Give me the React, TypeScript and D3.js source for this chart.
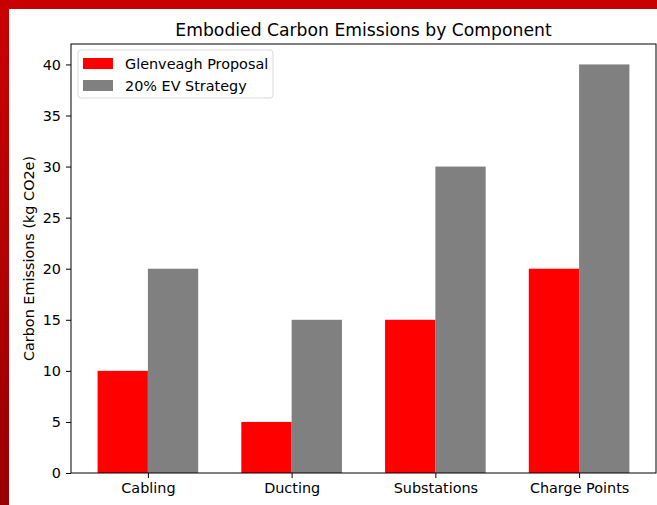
import React, { useEffect, useRef } from 'react';
import * as d3 from 'd3';

const categories = ['Cabling', 'Ducting', 'Substations', 'Charge Points'];
const glenveagh = [10, 5, 15, 20];
const evStrategy = [20, 15, 30, 40];
const seriesNames = ['Glenveagh Proposal', '20% EV Strategy'];
const yTicks = [0, 5, 10, 15, 20, 25, 30, 35, 40];

const App: React.FC = () => {
  const ref = useRef<SVGSVGElement>(null);

  useEffect(() => {
    if (!ref.current) return;
    const svg = d3.select(ref.current);
    svg.selectAll('*').remove();

    const W = 657;
    const H = 505;
    const font = 'DejaVu Sans, sans-serif';
    const fs = '14.4px';
    const margin = { top: 44, right: 1, bottom: 32, left: 71 };
    const width = W - margin.left - margin.right;
    const height = H - margin.top - margin.bottom;
    const barW = 0.35;

    // red frame (top + left edges)
    const defs = svg.append('defs');
    const grad = defs
      .append('linearGradient')
      .attr('id', 'frameGrad')
      .attr('x1', 0)
      .attr('y1', 0)
      .attr('x2', 0)
      .attr('y2', 1);
    grad.append('stop').attr('offset', '0%').attr('stop-color', '#cc0000');
    grad.append('stop').attr('offset', '100%').attr('stop-color', '#990000');

    svg.append('rect').attr('width', W).attr('height', H).attr('fill', '#ffffff');
    svg.append('rect').attr('x', 0).attr('y', 0).attr('width', 9).attr('height', H).attr('fill', 'url(#frameGrad)');
    svg.append('rect').attr('x', 0).attr('y', 0).attr('width', W).attr('height', 9).attr('fill', '#c80000');

    const g = svg.append('g').attr('transform', `translate(${margin.left},${margin.top})`);

    // matplotlib-like data limits with 5% margins
    const lo = -barW;
    const hi = categories.length - 1 + barW;
    const pad = (hi - lo) * 0.05;
    const x = d3.scaleLinear().domain([lo - pad, hi + pad]).range([0, width]);
    const yMax = d3.max(evStrategy) as number;
    const y = d3.scaleLinear().domain([0, yMax * 1.05]).range([height, 0]);

    // bars
    g.selectAll('rect.g1')
      .data(glenveagh)
      .enter()
      .append('rect')
      .attr('class', 'g1')
      .attr('x', (_, i) => x(i - barW))
      .attr('y', (d) => y(d))
      .attr('width', x(barW) - x(0))
      .attr('height', (d) => y(0) - y(d))
      .attr('fill', '#ff0000');

    g.selectAll('rect.g2')
      .data(evStrategy)
      .enter()
      .append('rect')
      .attr('class', 'g2')
      .attr('x', (_, i) => x(i))
      .attr('y', (d) => y(d))
      .attr('width', x(barW) - x(0))
      .attr('height', (d) => y(0) - y(d))
      .attr('fill', '#808080');

    // axes
    const xAxis = d3
      .axisBottom(x)
      .tickValues(categories.map((_, i) => i))
      .tickFormat((d) => categories[d as number])
      .tickSize(5)
      .tickPadding(5);
    const gx = g.append('g').attr('transform', `translate(0,${height})`).call(xAxis);
    gx.select('.domain').remove();
    gx.selectAll('text').style('font-family', font).style('font-size', fs).attr('fill', '#000');
    gx.selectAll('line').attr('stroke', '#000');

    const yAxis = d3.axisLeft(y).tickValues(yTicks).tickSize(5).tickPadding(5);
    const gy = g.append('g').call(yAxis);
    gy.select('.domain').remove();
    gy.selectAll('text').style('font-family', font).style('font-size', fs).attr('fill', '#000');
    gy.selectAll('line').attr('stroke', '#000');

    // frame
    g.append('rect')
      .attr('width', width)
      .attr('height', height)
      .attr('fill', 'none')
      .attr('stroke', '#000')
      .attr('stroke-width', 1);

    // title
    svg
      .append('text')
      .attr('x', margin.left + width / 2)
      .attr('y', 36)
      .attr('text-anchor', 'middle')
      .style('font-family', font)
      .style('font-size', '17.2px')
      .text('Embodied Carbon Emissions by Component');

    // y label
    svg
      .append('text')
      .attr('transform', `translate(34,${margin.top + height / 2}) rotate(-90)`)
      .attr('text-anchor', 'middle')
      .style('font-family', font)
      .style('font-size', fs)
      .text('Carbon Emissions (kg CO2e)');

    // legend
    const leg = svg.append('g').attr('transform', 'translate(78,50)');
    leg
      .append('rect')
      .attr('width', 195)
      .attr('height', 48)
      .attr('rx', 3)
      .attr('fill', '#fff')
      .attr('stroke', '#d9d9d9');
    const colors = ['#ff0000', '#808080'];
    seriesNames.forEach((name, i) => {
      const row = leg.append('g').attr('transform', `translate(0,${8 + i * 22})`);
      row.append('rect').attr('x', 5).attr('y', 0).attr('width', 30).attr('height', 11).attr('fill', colors[i]);
      row
        .append('text')
        .attr('x', 47)
        .attr('y', 10.5)
        .style('font-family', font)
        .style('font-size', fs)
        .text(name);
    });
  }, []);

  return (
    <svg
      ref={ref}
      width={657}
      height={505}
      style={{ position: 'absolute', left: 0, top: 0, display: 'block' }}
    />
  );
};

export default App;
